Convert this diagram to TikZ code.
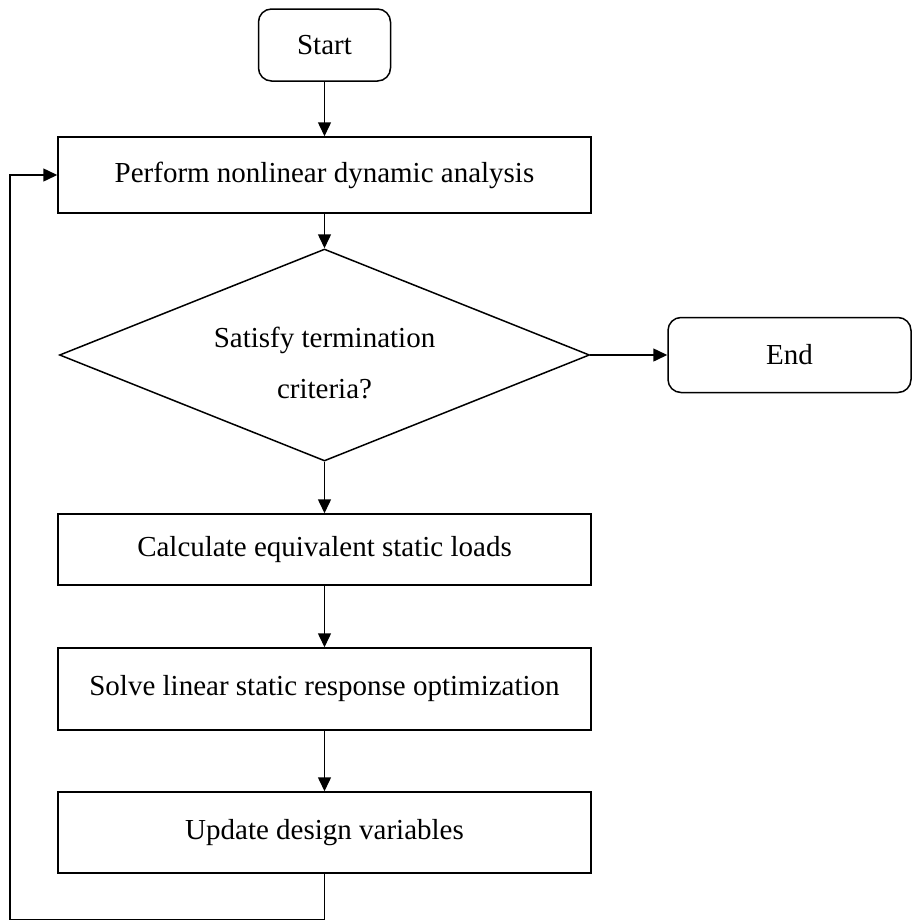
\documentclass[tikz,border=0pt]{standalone}
\usepackage{fontspec}
\setmainfont{Liberation Serif}
\usetikzlibrary{shapes.geometric,arrows.meta}
\begin{document}
\begin{tikzpicture}[x=1pt,y=-1pt,
  every node/.style={font=\fontsize{29}{51}\selectfont},
  conn/.style={line width=1.5pt},
  arr/.style={conn,-{Triangle[length=14pt,width=13pt]}},
  procbox/.style={draw,line width=1.5pt,minimum width=533pt,inner sep=0pt},
  termbox/.style={draw,line width=1.5pt,rounded corners=13pt,inner sep=0pt},
  decision/.style={draw,diamond,aspect=2.5,line width=1.5pt,minimum width=530pt,minimum height=212pt,inner sep=0pt,align=center}]
\useasboundingbox (0,0) rectangle (912,921);
\node[termbox,minimum width=132pt,minimum height=72pt] (start) at (324.5,45) {Start};
\node[procbox,minimum height=76pt] (perf) at (324.5,175) {Perform nonlinear dynamic analysis};
\node[decision] (dec) at (324.5,355) {\rule{0pt}{37pt}Satisfy termination\\criteria?};
\node[termbox,minimum width=243pt,minimum height=75pt] (end) at (789.5,355) {End};
\node[procbox,minimum height=71pt] (calc) at (324.5,549.5) {Calculate equivalent static loads};
\node[procbox,minimum height=82pt] (solve) at (324.5,689) {Solve linear static response optimization};
\node[procbox,minimum height=81pt] (upd) at (324.5,832.5) {Update design variables};
\coordinate (lb) at (324.5,919.5);
\coordinate (ll) at (10,919.5);
\draw[arr] (start) -- (perf);
\draw[arr] (perf) -- (dec);
\draw[arr] (dec.east) -- (end.west);
\draw[arr] (dec) -- (calc);
\draw[arr] (calc) -- (solve);
\draw[arr] (solve) -- (upd);
\draw[arr] (upd.south) -- (lb) -- (ll) |- (perf.west);
\end{tikzpicture}
\end{document}
